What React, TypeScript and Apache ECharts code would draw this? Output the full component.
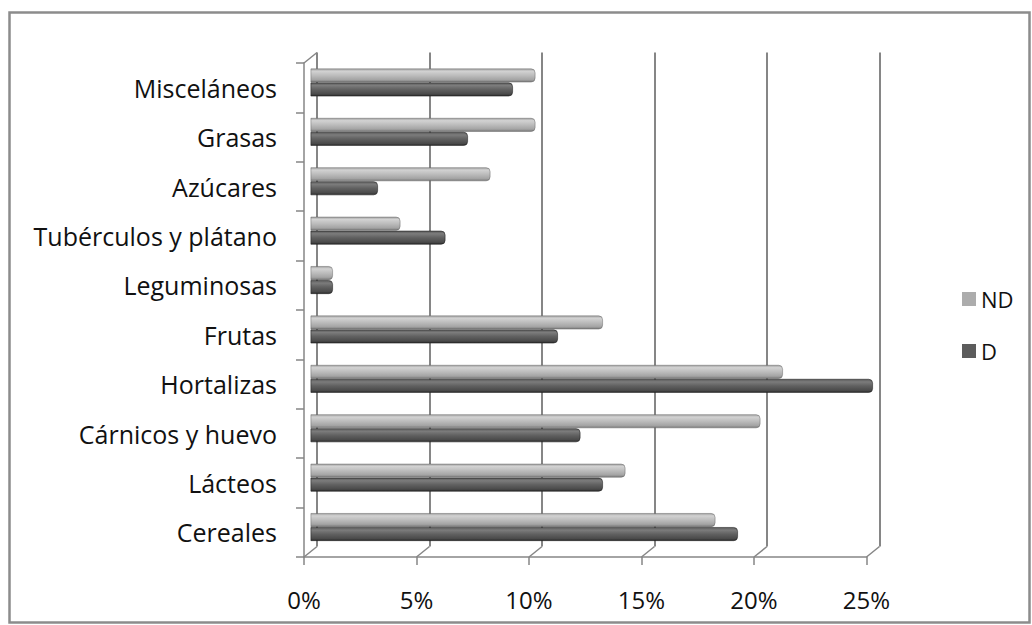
import React, { useEffect, useRef } from "react";
import * as echarts from "echarts";

const categories = [
  "Cereales",
  "Lácteos",
  "Cárnicos y huevo",
  "Hortalizas",
  "Frutas",
  "Leguminosas",
  "Tubérculos y plátano",
  "Azúcares",
  "Grasas",
  "Misceláneos",
];
const ndValues = [18, 14, 20, 21, 13, 1, 4, 8, 10, 10];
const dValues = [19, 13, 12, 25, 11, 1, 6, 3, 7, 9];
const xTicks = [0, 5, 10, 15, 20, 25];
const seriesNames = ["ND", "D"];

// layout
const FRONT_LEFT = 304;
const FRONT_TOP = 63;
const PLOT_W = 562.5;
const PLOT_H = 494;
const DX = 13;
const DY = 10.5;
const FONT = "'Open Sans', sans-serif";
const AXIS_COLOR = "#868686";
const TEXT_COLOR = "#111111";

export default function App() {
  const ref = useRef<HTMLDivElement>(null);
  useEffect(() => {
    if (!ref.current) return;
    const chart = echarts.init(ref.current, null, { renderer: "svg" });
    const xMax = xTicks[xTicks.length - 1];
    const step = xTicks[1] - xTicks[0];

    const diagonals: any[] = xTicks.map((t) => {
      const x = FRONT_LEFT + (t / xMax) * PLOT_W;
      const y = FRONT_TOP + PLOT_H;
      return {
        type: "line",
        shape: { x1: x, y1: y, x2: x + DX, y2: y - DY },
        style: { stroke: AXIS_COLOR, lineWidth: 1.5 },
        silent: true,
      };
    });
    diagonals.push({
      type: "line",
      shape: { x1: FRONT_LEFT, y1: FRONT_TOP, x2: FRONT_LEFT + DX, y2: FRONT_TOP - DY },
      style: { stroke: AXIS_COLOR, lineWidth: 1.5 },
      silent: true,
    });

    const ndGrad = new echarts.graphic.LinearGradient(0, 0, 0, 1, [
      { offset: 0, color: "#a0a0a0" },
      { offset: 0.18, color: "#d2d2d2" },
      { offset: 0.5, color: "#bcbcbc" },
      { offset: 0.82, color: "#a4a4a4" },
      { offset: 1, color: "#7a7a7a" },
    ]);
    const dGrad = new echarts.graphic.LinearGradient(0, 0, 0, 1, [
      { offset: 0, color: "#5a5a5a" },
      { offset: 0.2, color: "#7c7c7c" },
      { offset: 0.5, color: "#616161" },
      { offset: 0.85, color: "#4a4a4a" },
      { offset: 1, color: "#2a2a2a" },
    ]);

    chart.setOption({
      animation: false,
      backgroundColor: "#ffffff",
      textStyle: { fontFamily: FONT },
      grid: [
        { left: FRONT_LEFT, top: FRONT_TOP, width: PLOT_W, height: PLOT_H, containLabel: false },
        { left: FRONT_LEFT + DX, top: FRONT_TOP - DY, width: PLOT_W, height: PLOT_H, containLabel: false },
        { left: FRONT_LEFT + DX / 2, top: FRONT_TOP - DY / 2, width: PLOT_W, height: PLOT_H, containLabel: false },
      ],
      xAxis: [
        {
          gridIndex: 0,
          type: "value",
          min: 0,
          max: xMax,
          interval: step,
          axisLine: { show: true, lineStyle: { color: AXIS_COLOR, width: 1.5 } },
          axisTick: { show: true, length: 8, lineStyle: { color: AXIS_COLOR, width: 1.5 } },
          axisLabel: {
            formatter: (v: number) => `${v}%`,
            fontSize: 24,
            color: TEXT_COLOR,
            fontFamily: FONT,
            margin: 30,
          },
          splitLine: { show: false },
        },
        {
          gridIndex: 1,
          type: "value",
          min: 0,
          max: xMax,
          interval: step,
          axisLine: { show: false },
          axisTick: { show: false },
          axisLabel: { show: false },
          splitLine: { show: true, lineStyle: { color: AXIS_COLOR, width: 2 } },
        },
        {
          gridIndex: 2,
          type: "value",
          min: 0,
          max: xMax,
          interval: step,
          show: false,
        },
      ],
      yAxis: [
        {
          gridIndex: 0,
          type: "category",
          data: categories,
          axisLine: { show: true, lineStyle: { color: AXIS_COLOR, width: 1.5 } },
          axisTick: { show: true, length: 8, lineStyle: { color: AXIS_COLOR, width: 1.5 } },
          axisLabel: { fontSize: 25, color: TEXT_COLOR, fontFamily: FONT, margin: 27 },
        },
        { gridIndex: 1, type: "category", data: categories, show: false },
        { gridIndex: 2, type: "category", data: categories, show: false },
      ],
      legend: {
        orient: "vertical",
        left: 957,
        top: 283,
        itemWidth: 14,
        itemHeight: 14,
        itemGap: 30,
        icon: "rect",
        textStyle: { fontSize: 22, color: TEXT_COLOR, fontFamily: FONT },
        data: [
          { name: seriesNames[0], itemStyle: { color: "#acacac", borderWidth: 0 } },
          { name: seriesNames[1], itemStyle: { color: "#5c5c5c", borderWidth: 0 } },
        ],
      },
      series: [
        {
          name: seriesNames[0],
          type: "bar",
          xAxisIndex: 2,
          yAxisIndex: 2,
          data: ndValues,
          barWidth: 14,
          barGap: "0%",
          itemStyle: {
            color: ndGrad,
            borderRadius: [0, 4, 4, 0],
            borderColor: "rgba(90,90,90,0.55)",
            borderWidth: 0.8,
          },
        },
        {
          name: seriesNames[1],
          type: "bar",
          xAxisIndex: 2,
          yAxisIndex: 2,
          data: dValues,
          barWidth: 14,
          barGap: "0%",
          itemStyle: {
            color: dGrad,
            borderRadius: [0, 4, 4, 0],
            borderColor: "rgba(30,30,30,0.7)",
            borderWidth: 0.8,
          },
        },
      ],
      graphic: [
        {
          type: "rect",
          shape: { x: 9.5, y: 12.5, width: 1020, height: 610 },
          style: { fill: "none", stroke: "#8c8c8c", lineWidth: 2.5 },
          silent: true,
          z: 100,
        },
        ...diagonals,
      ],
    });
    return () => chart.dispose();
  }, []);

  return (
    <div
      ref={ref}
      style={{ position: "fixed", left: 0, top: 0, width: 1032, height: 625, background: "#fff" }}
    />
  );
}
